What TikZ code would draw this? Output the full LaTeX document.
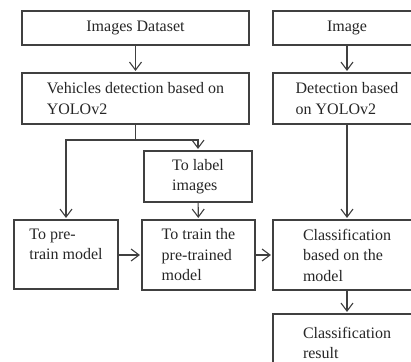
\documentclass[tikz,border=0pt]{standalone}
\usepackage{fontspec}
\setmainfont{Liberation Serif}
\usetikzlibrary{arrows.meta}
\tikzset{
  box/.style={draw=black!75, line width=1.1pt, rectangle, align=left, inner sep=0pt,
    font=\fontsize{16}{20.5}\selectfont, text=black!85},
  arr/.style={draw=black!75, line width=1.1pt, -{Straight Barb[length=8pt,width=12pt,line width=1.1pt]}, shorten >=1.5pt},
  ln/.style={draw=black!75, line width=1.1pt}
}
\begin{document}
\begin{tikzpicture}[x=1pt,y=-1pt]
\useasboundingbox (0,0) rectangle (411,361);
\clip (0,0) rectangle (411,361);
\node[box, minimum width=227pt, minimum height=34pt] (ids) at (135.5,28) {Images Dataset};
\node[box, minimum width=148pt, minimum height=34pt] (img) at (347,28) {Image};
\node[box, minimum width=227pt, minimum height=51pt] (veh) at (135.5,98.5) {Vehicles detection based on\\YOLOv2};
\node[box, minimum width=148pt, minimum height=51pt] (det) at (347,98.5) {Detection based\\on YOLOv2};
\node[box, minimum width=108pt, minimum height=51pt] (lab) at (198,176.5) {To label\\images};
\node[box, minimum width=104pt, minimum height=69pt] (pre) at (66,254.5) {To pre-\\train model\\\mbox{}};
\node[box, minimum width=113pt, minimum height=70pt] (trn) at (198.5,255) {To train the\\pre-trained\\model};
\node[box, minimum width=148pt, minimum height=70pt] (cls) at (347,255) {Classification\\based on the\\model};
\node[box, minimum width=148pt, minimum height=58pt] (res) at (347,343) {Classification\\result};
\coordinate (br) at (135.5,140);
\draw[arr] (ids) -- (veh);
\draw[arr] (img) -- (det);
\draw[ln] (veh.south) -- (br);
\draw[arr] (br) -| (pre.north);
\draw[arr] (br) -| (lab.north);
\draw[arr] (lab) -- (trn);
\draw[arr] (det) -- (cls);
\draw[arr] (pre.east |- trn.west) -- (trn.west);
\draw[arr] (trn) -- (cls);
\draw[arr] (cls) -- (res);
\end{tikzpicture}
\end{document}
